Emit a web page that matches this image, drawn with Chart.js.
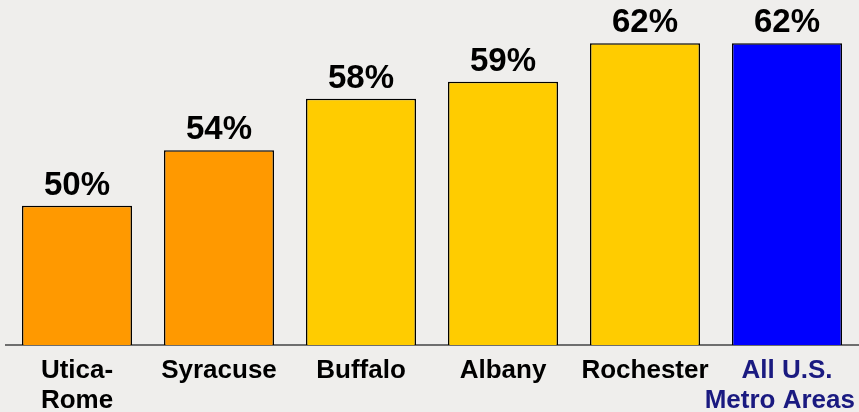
<!DOCTYPE html>
<html>
<head>
<meta charset="utf-8">
<script src="https://cdn.jsdelivr.net/npm/chart.js@4/dist/chart.umd.min.js"></script>
<style>
  html, body { margin: 0; padding: 0; background: #efeeec; }
  #wrap { width: 859px; height: 412px; }
</style>
</head>
<body>
<div id="wrap"><canvas id="barChart"></canvas></div>
<script>
// Categories and values
const categories = [['Utica-', 'Rome'], 'Syracuse', 'Buffalo', 'Albany', 'Rochester', ['All U.S.', 'Metro Areas  ']];
const shares = [50.3, 54.4, 58.2, 59.45, 62.3, 62.3];
const barColors = ['#ff9900', '#ff9900', '#ffcc00', '#ffcc00', '#ffcc00', '#0000ff'];
const tickColors = ['#000000', '#000000', '#000000', '#000000', '#000000', '#1a1a80'];

// Draw the percent labels over each bar
const valueLabels = {
    id: 'valueLabels',
    afterDatasetsDraw(chart) {
        const ctx = chart.ctx;
        const meta = chart.getDatasetMeta(0);
        ctx.save();
        ctx.font = 'bold 33px "Liberation Sans", Arial, sans-serif';
        ctx.fillStyle = '#000';
        ctx.textAlign = 'center';
        ctx.textBaseline = 'alphabetic';
        meta.data.forEach((bar, i) => {
            ctx.fillText(Math.round(shares[i]) + '%', bar.x, bar.y - 11);
        });
        ctx.restore();
    }
};

const ctx = document.getElementById('barChart').getContext('2d');
new Chart(ctx, {
    type: 'bar',
    data: {
        labels: categories,
        datasets: [{
            data: shares,
            backgroundColor: barColors,
            borderColor: '#000000',
            borderWidth: 1.5,
            borderSkipped: false,
            categoryPercentage: 1,
            barPercentage: 0.775
        }]
    },
    options: {
        responsive: true,
        maintainAspectRatio: false,
        animation: false,
        layout: { padding: { left: 6, right: 1, top: 0, bottom: 0 } },
        plugins: {
            legend: { display: false },
            tooltip: { enabled: false }
        },
        scales: {
            y: {
                display: false,
                min: 40,
                max: 65.5
            },
            x: {
                grid: { display: false },
                border: { display: true, color: '#6e6e6e', width: 2 },
                afterFit(scale) {
                    scale.height = 67;
                    scale.paddingLeft = 0;
                    scale.paddingRight = 0;
                },
                ticks: {
                    color: tickColors,
                    padding: 3,
                    maxRotation: 0,
                    autoSkip: false,
                    font: { family: '"Liberation Sans", Arial, sans-serif', size: 26, weight: 'bold', lineHeight: 1.15 }
                }
            }
        }
    },
    plugins: [valueLabels]
});
</script>
</body>
</html>
